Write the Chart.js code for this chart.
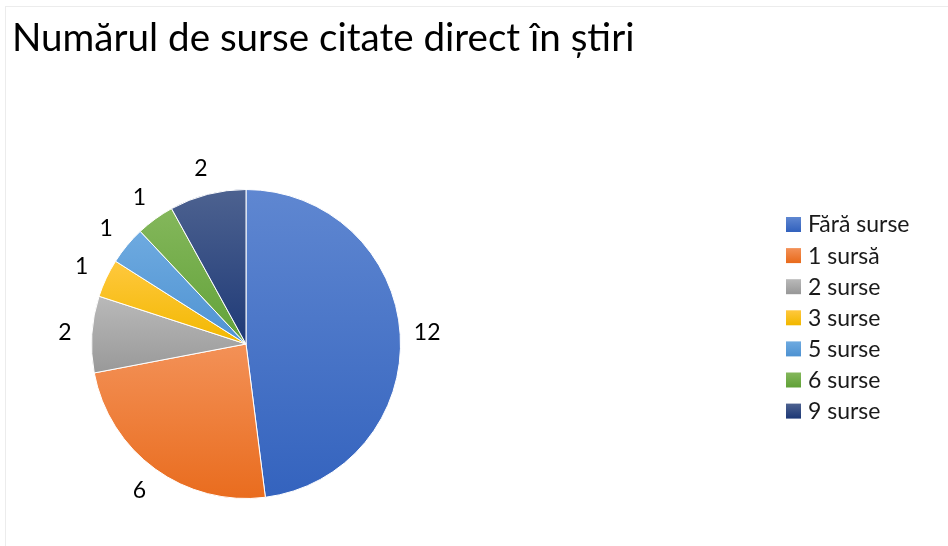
<!DOCTYPE html>
<html>
<head>
<meta charset="utf-8">
<script src="https://cdn.jsdelivr.net/npm/chart.js"></script>
<style>
  html, body { margin: 0; padding: 0; background: #fff; }
  #wrap { position: relative; width: 948px; height: 546px; }
  #frame { position: absolute; left: 5px; top: 6px; width: 960px; height: 560px; border: 1px solid #ececec; }
  canvas { position: absolute; left: 0; top: 0; }
</style>
</head>
<body>
<div id="wrap">
  <div id="frame"></div>
  <canvas id="chartSurse" width="948" height="546"></canvas>
</div>
<script>
const categorii = ['Fără surse', '1 sursă', '2 surse', '3 surse', '5 surse', '6 surse', '9 surse'];
const valori = [12, 6, 2, 1, 1, 1, 2];
// culori: [sus (deschis), jos (inchis)]
const culori = [
  ['#5f87d1', '#3463be'],
  ['#f39157', '#e96c1e'],
  ['#b9b9b9', '#999999'],
  ['#ffc83e', '#f2b800'],
  ['#6eaae0', '#4f93d2'],
  ['#84b75b', '#62a239'],
  ['#4d6290', '#1f3a77']
];

const FONT = 'Lato, "Open Sans", sans-serif';

// gradient vertical pe fiecare felie, calculat din unghiurile ei
function gradientFelie(ctx) {
  const chart = ctx.chart;
  const i = ctx.dataIndex;
  const area = chart.chartArea;
  if (!area) return culori[i][0];
  const cx = (area.left + area.right) / 2;
  const cy = (area.top + area.bottom) / 2;
  const r = Math.min(area.right - area.left, area.bottom - area.top) / 2;
  const total = valori.reduce((a, b) => a + b, 0);
  let inainte = 0;
  for (let k = 0; k < i; k++) inainte += valori[k];
  const a0 = -Math.PI / 2 + inainte / total * 2 * Math.PI;
  const a1 = a0 + valori[i] / total * 2 * Math.PI;
  let ys = [cy, cy + r * Math.sin(a0), cy + r * Math.sin(a1)];
  for (let t = -Math.PI / 2; t <= 3 * Math.PI / 2; t += Math.PI) {
    if (t > a0 && t < a1) ys.push(cy + r * Math.sin(t));
  }
  const y0 = Math.min(...ys), y1 = Math.max(...ys);
  const g = chart.ctx.createLinearGradient(0, y0, 0, y1);
  g.addColorStop(0, culori[i][0]);
  g.addColorStop(1, culori[i][1]);
  return g;
}

const etichete = {
  id: 'etichete',
  afterDatasetsDraw(chart) {
    const ctx = chart.ctx;
    const meta = chart.getDatasetMeta(0);
    ctx.save();
    ctx.fillStyle = '#000';
    ctx.font = '23px ' + FONT;
    ctx.textAlign = 'center';
    ctx.textBaseline = 'middle';
    meta.data.forEach((arc, i) => {
      const p = arc.getProps(['x', 'y', 'startAngle', 'endAngle', 'outerRadius'], true);
      const mid = (p.startAngle + p.endAngle) / 2;
      const d = p.outerRadius + 27;
      ctx.fillText(String(valori[i]), p.x + d * Math.cos(mid), p.y + d * Math.sin(mid));
    });
    ctx.restore();
  },
  afterDraw(chart) {
    const ctx = chart.ctx;
    ctx.save();
    // titlu
    ctx.fillStyle = '#000';
    ctx.font = '38.6px ' + FONT;
    ctx.textAlign = 'left';
    ctx.textBaseline = 'alphabetic';
    ctx.fillText('Numărul de surse citate direct în știri', 12, 51);
    // legenda
    ctx.font = '23px ' + FONT;
    ctx.textBaseline = 'middle';
    categorii.forEach((c, i) => {
      const y = 224 + i * 31.1;
      const g = ctx.createLinearGradient(0, y - 7, 0, y + 7);
      g.addColorStop(0, culori[i][0]);
      g.addColorStop(1, culori[i][1]);
      ctx.fillStyle = g;
      ctx.fillRect(786, y - 7, 15, 15);
      ctx.fillStyle = '#1a1a1a';
      ctx.fillText(c, 808, y + 1);
    });
    ctx.restore();
  }
};

const ctx = document.getElementById('chartSurse').getContext('2d');
new Chart(ctx, {
  type: 'pie',
  data: {
    labels: categorii,
    datasets: [{
      data: valori,
      backgroundColor: gradientFelie,
      borderColor: '#ffffff',
      borderWidth: 1
    }]
  },
  options: {
    responsive: false,
    animation: false,
    layout: {
      padding: { left: 91, right: 547, top: 189, bottom: 47 }
    },
    plugins: {
      legend: { display: false },
      title: { display: false },
      tooltip: { enabled: false }
    }
  },
  plugins: [etichete]
});
</script>
</body>
</html>
